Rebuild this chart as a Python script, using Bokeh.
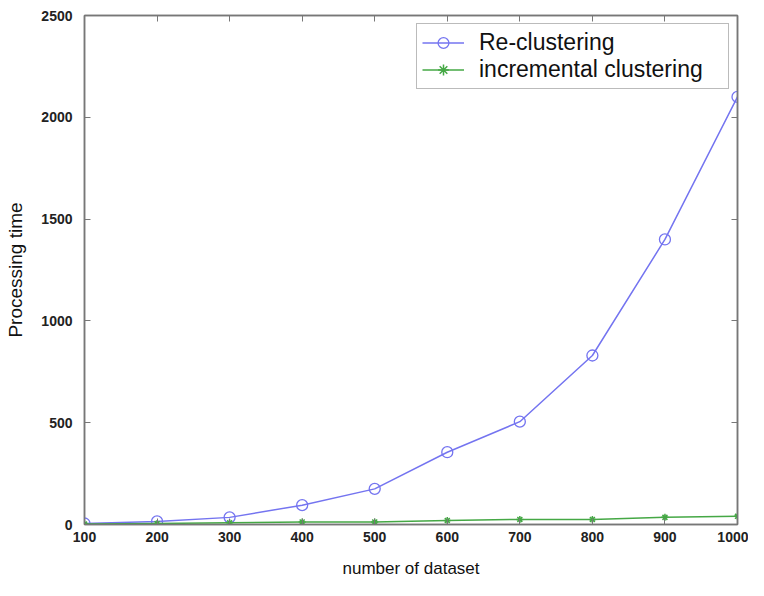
from bokeh.plotting import figure
from bokeh.models import Range1d, FixedTicker, LinearAxis, Legend, LegendItem
from bokeh.embed import file_html
from bokeh.resources import INLINE

n_dataset = [100, 200, 300, 400, 500, 600, 700, 800, 900, 1000]
re_clustering = [5, 15, 35, 95, 175, 355, 505, 830, 1400, 2100]
incremental = [2, 5, 8, 12, 12, 20, 25, 25, 35, 40]
x_ticks = [100, 200, 300, 400, 500, 600, 700, 800, 900, 1000]
y_ticks = [0, 500, 1000, 1500, 2000, 2500]

FONT = "Liberation Sans"
BLUE = "#7474f0"
GREEN = "#45a845"
AX = "#777777"

p = figure(width=748, height=580, output_backend="svg", toolbar_location=None,
           x_range=Range1d(100, 1000), y_range=Range1d(0, 2500),
           min_border_left=84, min_border_right=11, min_border_top=15, min_border_bottom=10)
p.grid.visible = False
p.outline_line_color = AX
p.outline_line_width = 1.5

def style(ax, labels=True):
    ax.axis_line_color = AX
    ax.axis_line_width = 1.5
    ax.major_tick_line_color = AX
    ax.major_tick_in = 6
    ax.major_tick_out = 0
    ax.minor_tick_line_color = None
    if labels:
        ax.major_label_text_font = FONT
        ax.major_label_text_font_size = "14px"
        ax.major_label_text_font_style = "bold"
        ax.major_label_text_color = "#222222"
        ax.axis_label_text_font = FONT
        ax.axis_label_text_font_size = "17px"
        ax.axis_label_text_font_style = "normal"
        ax.axis_label_text_color = "#111111"
    else:
        ax.major_label_text_font_size = "0px"
        ax.major_label_text_color = None
        ax.major_label_standoff = 0

p.xaxis.ticker = FixedTicker(ticks=x_ticks)
p.yaxis.ticker = FixedTicker(ticks=y_ticks)
p.xaxis.axis_label = "number of dataset"
p.yaxis.axis_label = "Processing time"
p.xaxis.major_label_standoff = 7
p.yaxis.major_label_standoff = 12
p.xaxis.axis_label_standoff = 14
p.yaxis.axis_label_standoff = 12
style(p.xaxis[0])
style(p.yaxis[0])
p.yaxis.axis_label_text_font_size = "19px"

top = LinearAxis(ticker=FixedTicker(ticks=x_ticks))
right = LinearAxis(ticker=FixedTicker(ticks=y_ticks))
style(top, False)
style(right, False)
p.add_layout(top, "above")
p.add_layout(right, "right")

l1 = p.line(n_dataset, re_clustering, line_color=BLUE, line_width=1.5)
s1 = p.scatter(n_dataset, re_clustering, marker="circle", size=11, fill_color=None,
               line_color=BLUE, line_width=1.3)
l2 = p.line(n_dataset, incremental, line_color=GREEN, line_width=1.5)
s2 = p.scatter(n_dataset, incremental, marker="asterisk", size=7,
               line_color=GREEN, line_width=1.5)

legend = Legend(items=[LegendItem(label="Re-clustering", renderers=[l1, s1]),
                       LegendItem(label="incremental clustering", renderers=[l2, s2])],
                location="top_right")
legend.label_text_font = FONT
legend.label_text_font_size = "23px"
legend.label_text_color = "#111111"
legend.glyph_width = 42
legend.glyph_height = 27
legend.label_height = 27
legend.label_width = 244
legend.spacing = 0
legend.padding = 5
legend.margin = 8
legend.border_line_color = AX
legend.border_line_width = 1.2
legend.label_standoff = 15
p.add_layout(legend)

open("out.html", "w").write(file_html(p, INLINE))
